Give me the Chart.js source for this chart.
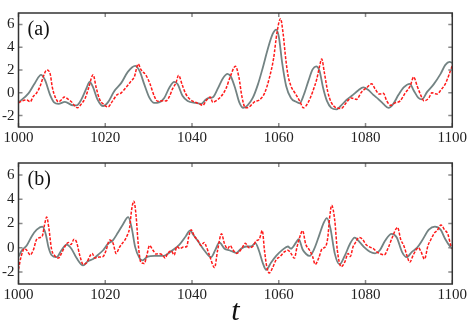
<!DOCTYPE html>
<html>
<head>
<meta charset="utf-8">
<script src="https://cdn.jsdelivr.net/npm/chart.js@4.4.0/dist/chart.umd.min.js"></script>
<style>
  html, body { margin: 0; padding: 0; background: #fff; }
  #wrap { position: relative; width: 469px; height: 324px; }
  canvas { position: absolute; left: 0; }
</style>
</head>
<body>
<div id="wrap">
  <canvas id="chartA" width="469" height="150" style="top:0px"></canvas>
  <canvas id="chartB" width="469" height="174" style="top:150px"></canvas>
</div>
<script>
// axis ticks
var xTicks = [1000, 1020, 1040, 1060, 1080, 1100];
var yTicks = [-2, 0, 2, 4, 6];

// panel (a) - gray solid
var tGrayA = [1000,1002.3,1003.8,1005.2,1006.1,1007.3,1008.2,1009.2,1010.7,1012.6,
  1013.4,1014.5,1015.6,1016.4,1017.2,1018.2,1019,1019.5,1020.6,1022.1,
  1023.7,1025.2,1026.9,1027.9,1029,1030.2,1031.3,1032.4,1033.6,1034.8,
  1035.9,1036.7,1037.8,1039,1040.9,1042.1,1043.2,1044,1044.8,1045.9,
  1047.1,1048.2,1049,1050,1050.9,1051.8,1052.8,1054,1055.2,1056.3,
  1057.5,1058.6,1059.4,1060,1060.8,1061.7,1062.8,1064,1064.8,1065.8,
  1066.8,1067.8,1068.6,1069.4,1070.2,1071.1,1072.1,1073.3,1074.4,1075.6,
  1077.1,1078.3,1079.5,1080.6,1081.8,1082.9,1084.1,1085.3,1086.4,1087.6,
  1088.8,1090.2,1091.1,1092.2,1093,1094.2,1095.7,1097.3,1098.4,1099.4,
  1100];
var grayA = [-0.84,-0.05,0.87,1.58,1.13,-0.2,-0.84,-0.97,-0.8,-1.1,
  -1.1,-0.58,0.34,0.95,0.47,-0.58,-1.05,-1.16,-0.84,0.16,
  0.87,1.84,2.37,1.92,0.74,-0.45,-0.89,-0.84,-0.45,0.47,
  0.95,0.74,-0.26,-0.71,-0.89,-0.97,-0.58,-0.45,-0.39,0.34,
  1.26,1.66,1.39,0.34,-0.84,-1.32,-1.1,-0.45,0.74,2.18,
  3.89,5.16,5.55,4.95,2.58,0.6,-0.45,-0.79,-0.92,-0.15,
  1.0,2.05,2.32,1.92,0.47,-0.71,-1.32,-1.45,-1.1,-0.63,
  -0.18,0.21,0.47,0.26,-0.18,-0.53,-0.97,-1.32,-0.97,-0.18,
  0.47,0.79,0.21,-0.45,-0.58,0.08,0.74,1.66,2.45,2.71,
  2.63];

// panel (a) - red dashed
var tRedA = [1000,1000.9,1001.9,1002.7,1003.4,1004.2,1005,1005.7,1006.5,1007.3,
  1007.8,1008.4,1009.2,1010,1010.5,1011.5,1012.2,1013,1013.6,1014.5,
  1015.4,1016.2,1017.2,1017.9,1018.7,1019.5,1020.6,1021.7,1022.7,1023.7,
  1024.8,1025.9,1026.7,1027.6,1028.2,1029.4,1030.3,1031.3,1032.1,1033.2,
  1034,1034.8,1035.5,1036.3,1036.9,1037.7,1038.5,1039.4,1040.5,1041.7,
  1042.5,1043.2,1044.2,1044.8,1045.5,1046.7,1047.8,1048.8,1050,1050.8,
  1051.5,1052.3,1053.2,1054.4,1055.5,1056.7,1057.8,1058.8,1059.6,1060.4,
  1061,1061.6,1062.1,1062.8,1063.8,1064.8,1065.7,1066.7,1067.8,1068.8,
  1069.4,1069.9,1070.5,1071.3,1072.1,1073.3,1074.4,1075.6,1076.7,1077.9,
  1079.1,1080.2,1081.4,1082.2,1083.2,1084.1,1084.9,1085.8,1086.8,1088,
  1089.1,1090.3,1091.1,1091.9,1092.7,1093.5,1094.6,1095.3,1096.5,1097.4,
  1098.4,1100];
var redA = [-0.89,-0.71,-0.63,-0.79,-0.32,0,0.6,1.39,2.0,1.66,
  0.47,-0.32,-0.79,-0.58,-0.37,-0.58,-0.79,-1.16,-1.32,-0.97,
  -0.45,0.47,1.58,0.47,-0.58,-0.97,-1.24,-0.71,-0.18,0,
  0.47,1.0,1.39,2.53,2.05,1.53,0.8,-0.3,-0.75,-0.7,
  -0.71,-0.32,0.34,0.87,1.53,0.74,-0.05,-0.53,-0.79,-0.97,
  -1.1,-0.71,-0.37,-0.84,-0.71,-0.32,0.34,1.39,2.32,1.39,
  -0.32,-1.32,-1.24,-0.79,-0.63,-0.05,1.26,3.0,5.3,6.5,
  5.2,3.0,1.6,0.6,-0.05,-0.71,-1.32,-0.9,0.08,1.26,
  2.32,2.97,1.79,0.08,-0.84,-1.32,-1.37,-0.84,-0.45,-0.58,
  0.08,0.42,0.79,0.34,-0.11,-0.05,-0.71,-1.1,-0.89,-0.71,
  -0.05,0.6,1.39,0.6,-0.18,-0.71,-0.45,0,-0.11,0.26,
  0.79,2.37];

// panel (b) - gray solid
var tGrayB = [1000,1000.8,1001.9,1003.1,1004.2,1005.5,1006.3,1006.9,1007.6,1008.8,
  1009.9,1011.1,1012.2,1013.4,1014.9,1016,1017.2,1018.3,1019.5,1020.6,
  1021.8,1022.9,1024,1025.3,1026.1,1026.9,1027.9,1028.6,1029.8,1031.3,
  1033.2,1034,1035.5,1037.1,1038.6,1039.5,1040.5,1041.7,1042.8,1044.4,
  1045.4,1046.3,1047.5,1048.6,1050.2,1051.3,1052.5,1053.6,1054.6,1055.4,
  1056.3,1057.1,1058.2,1059.4,1060.9,1062.1,1062.8,1064,1064.6,1065.5,
  1066.3,1067.1,1068.2,1069.4,1070.3,1071.1,1071.9,1072.9,1074,1075.2,
  1076.4,1077.5,1078.7,1079.8,1081,1082.2,1083.3,1084.5,1086,1087.2,
  1088.4,1089.5,1090.7,1091.9,1093,1094.6,1096,1097.3,1098.4,1099.6,
  1100];
var grayB = [-0.73,-0.21,0.18,0.97,1.49,1.75,1.1,0.05,-0.6,-0.78,
  -0.21,0.26,-0.08,-0.86,-1.46,-1.12,-0.94,-0.6,-0.21,0.31,
  0.63,1.23,1.88,2.53,1.62,0.05,-0.86,-1.04,-0.73,-0.68,
  -0.68,-0.6,-0.21,0.26,0.97,1.41,0.97,0.37,-0.21,-0.78,
  -0.16,0.44,-0.08,-0.21,-0.42,-0.08,0.1,0.1,0.37,-0.21,
  -1.25,-1.83,-1.25,-0.68,-0.16,0.1,-0.08,0.44,0.7,-0.15,
  -0.52,-0.68,-0.08,1.1,2.01,2.45,1.62,-0.47,-1.38,-0.68,
  0.31,0.84,0.44,0,-0.34,-0.47,-0.21,0.57,1.15,0.84,
  -0.34,-0.78,-0.34,0,0.57,1.49,1.75,1.49,0.7,0.05,
  -0.08];

// panel (b) - red dashed
var tRedB = [1000,1000.6,1001.4,1001.9,1002.7,1003.4,1004.2,1005,1005.5,1006,
  1006.5,1007,1007.6,1008.4,1009.2,1009.9,1010.7,1011.5,1012.1,1012.8,
  1013.4,1014.1,1014.9,1015.7,1016.4,1017,1017.6,1018.3,1019.5,1020.2,
  1021,1021.8,1022.5,1023.3,1023.8,1024.4,1025,1025.6,1026.1,1026.6,
  1027.1,1027.6,1028.2,1029,1029.6,1030.2,1031,1031.7,1032.5,1033.2,
  1033.8,1034.4,1035.2,1035.9,1036.5,1037.2,1038,1038.8,1039.2,1039.8,
  1040.5,1041.3,1042.1,1042.8,1043.2,1044,1045.2,1045.9,1046.8,1047.5,
  1048.2,1048.8,1049.4,1050.3,1051.3,1052.3,1053.1,1054,1054.8,1055.5,
  1056.2,1056.7,1057.2,1057.8,1058.6,1059.4,1060.3,1061.3,1062.1,1062.8,
  1063.6,1064.2,1064.8,1065.5,1066.2,1067.1,1067.8,1068.4,1069.2,1070,
  1070.7,1071.3,1071.7,1072.2,1072.9,1073.5,1074.4,1075.2,1076,1076.5,
  1077.1,1077.7,1078.5,1079.3,1080.1,1081,1081.8,1082.6,1083.5,1084.3,
  1085.3,1086,1087.4,1088.1,1088.9,1089.5,1090.2,1091,1091.7,1092.2,
  1092.8,1093.6,1094.4,1095.1,1095.9,1096.5,1097.4,1098.2,1099,1099.6,
  1100];
var redB = [-1.78,-0.73,-0.08,-0.21,-0.6,-0.21,0.7,0.84,0.97,1.88,
  2.53,1.62,-0.08,-0.68,-0.86,-0.47,0.1,0.44,0.26,0.7,
  0.44,-0.6,-1.38,-1.25,-0.73,-0.47,-0.86,-0.78,-0.73,-0.21,
  0.63,0.37,-0.47,0.05,0.31,0.57,0.97,1.62,3.19,3.84,
  2.66,0.31,-1.2,-1.31,-0.6,0.18,-0.21,-0.52,-0.5,-0.6,
  -0.86,-0.47,-0.26,-0.6,0.1,-0.08,0.05,0.1,0.84,1.49,
  0.97,0.63,0.18,0.44,0.18,-0.6,-1.64,-0.21,1.15,0.31,
  -0.08,0.18,-0.16,-0.47,-0.16,0.37,0,0.1,0.57,0.7,
  1.41,-0.21,-1.51,-2.09,-1.64,-0.99,-0.73,-0.34,-0.21,-0.47,
  -0.86,0.05,0.84,1.4,0.3,-0.21,-0.73,-1.38,-0.86,-0.08,
  0.05,0.84,2.4,3.5,2.27,-0.21,-1.57,-1.2,-0.47,-0.73,
  0.05,0.44,0.84,0.7,0.26,0.05,-0.08,-0.34,-0.52,-0.6,
  0.05,0.7,1.67,0.7,0.1,-0.6,-1.2,-0.6,-0.16,0,
  -0.34,-0.94,0.18,0.7,1.23,1.41,1.88,1.49,1.1,0.26,
  -0.08];

var serif = '"Liberation Serif", "DejaVu Serif", serif';

function pairs(ts, vs) {
  return ts.map(function (t, i) { return { x: t, y: vs[i] }; });
}

// frame, inward ticks and panel letter
var panelPlugin = {
  id: 'panel',
  afterDatasetsDraw: function (chart, args, opts) {
    var ctx = chart.ctx, a = chart.chartArea;
    var xs = chart.scales.x, ys = chart.scales.y;
    var len = 4;
    ctx.save();
    ctx.strokeStyle = '#8a8a8a';
    ctx.lineWidth = 1.5;
    ctx.beginPath();
    xs.ticks.forEach(function (t) {
      var px = xs.getPixelForValue(t.value);
      ctx.moveTo(px, a.top); ctx.lineTo(px, a.top + len);
      ctx.moveTo(px, a.bottom); ctx.lineTo(px, a.bottom - len);
    });
    ys.ticks.forEach(function (t) {
      var py = ys.getPixelForValue(t.value);
      ctx.moveTo(a.left, py); ctx.lineTo(a.left + len, py);
      ctx.moveTo(a.right, py); ctx.lineTo(a.right - len, py);
    });
    ctx.stroke();
    ctx.strokeStyle = '#333';
    ctx.lineWidth = 1.5;
    ctx.strokeRect(a.left, a.top, a.right - a.left, a.bottom - a.top);
    ctx.fillStyle = '#111';
    ctx.font = '20px ' + serif;
    ctx.textBaseline = 'middle';
    ctx.textAlign = 'left';
    ctx.fillText(opts.label, a.left + 9, a.top + 17);
    ctx.restore();
  }
};

function plain(v) { return String(v); }

function makeChart(id, label, tG, g, tR, r, padTop, xHeight, showTitle) {
  return new Chart(document.getElementById(id), {
    type: 'line',
    data: {
      datasets: [
        {
          label: 'red',
          data: pairs(tR, r),
          borderColor: '#ff1a1a',
          borderWidth: 1.5,
          borderDash: [3, 1.5],
          pointRadius: 0,
          fill: false,
          cubicInterpolationMode: 'monotone',
          order: 0
        },
        {
          label: 'gray',
          data: pairs(tG, g),
          borderColor: '#738383',
          borderWidth: 1.8,
          pointRadius: 0,
          fill: false,
          cubicInterpolationMode: 'monotone',
          order: 1
        }
      ]
    },
    options: {
      responsive: false,
      animation: false,
      layout: { padding: { top: padTop, right: 15, left: 0, bottom: 0 } },
      plugins: {
        legend: { display: false },
        tooltip: { enabled: false },
        panel: { label: label }
      },
      scales: {
        x: {
          type: 'linear',
          min: 1000,
          max: 1100,
          afterBuildTicks: function (s) { s.ticks = xTicks.map(function (v) { return { value: v }; }); },
          afterFit: function (s) { s.height = xHeight; },
          grid: { display: false, drawTicks: false },
          border: { display: false },
          ticks: { font: { family: serif, size: 15 }, color: '#222', padding: 2, maxRotation: 0, callback: plain },
          title: {
            display: showTitle,
            text: 't',
            color: '#111',
            font: { family: serif, size: 30, style: 'italic', lineHeight: 1 },
            padding: { top: 0, bottom: -3 }
          }
        },
        y: {
          min: -3,
          max: 7,
          afterBuildTicks: function (s) { s.ticks = yTicks.map(function (v) { return { value: v }; }); },
          afterFit: function (s) { s.width = 18.5; },
          grid: { display: false, drawTicks: false },
          border: { display: false },
          ticks: { font: { family: serif, size: 15 }, color: '#222', padding: 4, callback: plain }
        }
      }
    },
    plugins: [panelPlugin]
  });
}

makeChart('chartA', '(a)', tGrayA, grayA, tRedA, redA, 1, 23, false);
makeChart('chartB', '(b)', tGrayB, grayB, tRedB, redB, 7, 40, true);
</script>
</body>
</html>
